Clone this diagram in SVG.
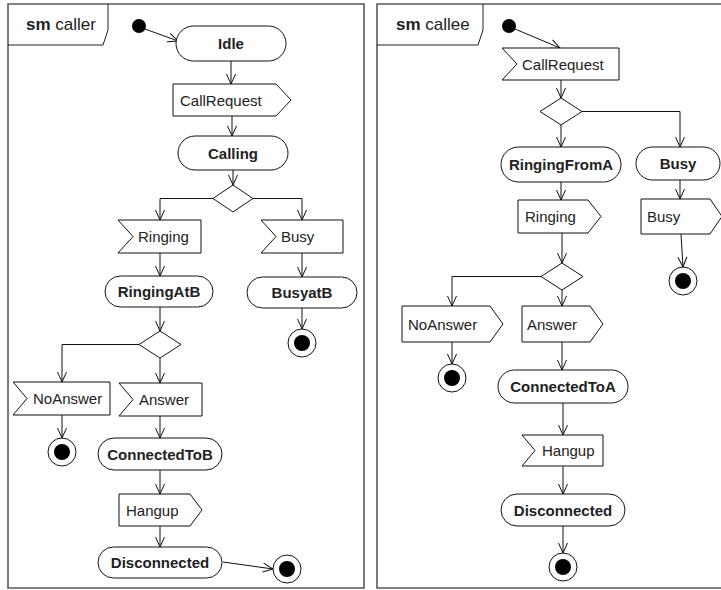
<svg xmlns="http://www.w3.org/2000/svg" width="721" height="590" viewBox="0 0 721 590">
  <style>
    .frame { fill: none; stroke: #5a5a5a; stroke-width: 1.6; }
    .tab { fill: none; stroke: #222; stroke-width: 1; }
    .shape { fill: #fff; stroke: #111; stroke-width: 1; }
    .edge { fill: none; stroke: #111; stroke-width: 1; marker-end: url(#arrow); }
    .init { fill: #000; }
    .final-ring { fill: #fff; stroke: #111; stroke-width: 1; }
    .final-dot { fill: #000; }
    .lbl { font-family: "Liberation Sans", Arial, sans-serif; font-size: 15px; fill: #222; }
    .state { font-family: "Liberation Sans", Arial, sans-serif; font-size: 15px; font-weight: bold; fill: #222; text-anchor: middle; }
    .title { font-family: "Liberation Sans", Arial, sans-serif; font-size: 17px; fill: #222; }
  </style>
  <defs>
    <marker id="arrow" markerUnits="userSpaceOnUse" markerWidth="12" markerHeight="12" refX="10" refY="4.5" orient="auto" overflow="visible">
      <path d="M0,0 L10,4.5 L0,9" fill="none" stroke="#111" stroke-width="1"/>
    </marker>
  </defs>

  <!-- ===== state machine: caller ===== -->
  <g id="frame-caller">
    <path class="frame" d="M8,4 H364 V588 H8 Z"/>
    <path class="tab" d="M8,45 H103 L108,30 V4"/>
    <text class="title" x="26" y="30"><tspan font-weight="bold">sm</tspan> caller</text>
  </g>

  <g id="caller-connectors">
    <line class="edge" x1="145" y1="29" x2="178" y2="41"/>
    <line class="edge" x1="231" y1="61" x2="231" y2="84"/>
    <line class="edge" x1="232" y1="116" x2="232" y2="136"/>
    <line class="edge" x1="233" y1="170" x2="233" y2="185"/>
    <path class="edge" d="M213,198.5 H160 V220"/>
    <path class="edge" d="M253,198.5 H302 V220"/>
    <line class="edge" x1="160" y1="253" x2="160" y2="276"/>
    <line class="edge" x1="302" y1="253" x2="302" y2="277"/>
    <line class="edge" x1="302" y1="308" x2="302" y2="329"/>
    <line class="edge" x1="160" y1="307" x2="160" y2="331"/>
    <path class="edge" d="M139,344.5 H62 V382"/>
    <line class="edge" x1="160" y1="358" x2="160" y2="383"/>
    <line class="edge" x1="62" y1="415" x2="62" y2="438"/>
    <line class="edge" x1="160" y1="416" x2="160" y2="438"/>
    <line class="edge" x1="160" y1="470" x2="160" y2="494"/>
    <line class="edge" x1="160" y1="526" x2="160" y2="547"/>
    <line class="edge" x1="223" y1="562" x2="273" y2="569"/>
  </g>

  <g id="caller-initial"><circle class="init" cx="139" cy="26" r="7"/></g>
  <g id="caller-idle">
    <rect class="shape" x="176" y="26" width="110" height="35" rx="17.5"/>
    <text class="state" x="231" y="49">Idle</text>
  </g>
  <g id="caller-callrequest">
    <polygon class="shape" points="173,84 276,84 291,100 276,116 173,116"/>
    <text class="lbl" x="180" y="105.5">CallRequest</text>
  </g>
  <g id="caller-calling">
    <rect class="shape" x="178" y="136" width="110" height="34" rx="17"/>
    <text class="state" x="233" y="158.5">Calling</text>
  </g>
  <g id="caller-choice1"><polygon class="shape" points="233,185 253,198.5 233,212 213,198.5"/></g>
  <g id="caller-ringing">
    <polygon class="shape" points="118,220 201,220 201,253 118,253 133,236.5"/>
    <text class="lbl" x="138" y="242">Ringing</text>
  </g>
  <g id="caller-busy">
    <polygon class="shape" points="261,220 343,220 343,253 261,253 276,236.5"/>
    <text class="lbl" x="281" y="242">Busy</text>
  </g>
  <g id="caller-ringingatb">
    <rect class="shape" x="105" y="276" width="108" height="31" rx="15.5"/>
    <text class="state" x="159" y="297">RingingAtB</text>
  </g>
  <g id="caller-busyatb">
    <rect class="shape" x="247" y="277" width="110" height="31" rx="15.5"/>
    <text class="state" x="302" y="298">BusyatB</text>
  </g>
  <g id="caller-final-busy">
    <circle class="final-ring" cx="302" cy="343" r="14"/>
    <circle class="final-dot" cx="302" cy="343" r="8"/>
  </g>
  <g id="caller-choice2"><polygon class="shape" points="160,331 181,344.5 160,358 139,344.5"/></g>
  <g id="caller-noanswer">
    <polygon class="shape" points="13,382 110,382 110,415 13,415 27,398.5"/>
    <text class="lbl" x="33" y="404">NoAnswer</text>
  </g>
  <g id="caller-answer">
    <polygon class="shape" points="119,383 202,383 202,416 119,416 133,399.5"/>
    <text class="lbl" x="139" y="405">Answer</text>
  </g>
  <g id="caller-final-noanswer">
    <circle class="final-ring" cx="62" cy="452" r="14"/>
    <circle class="final-dot" cx="62" cy="452" r="8"/>
  </g>
  <g id="caller-connectedtob">
    <rect class="shape" x="98" y="438" width="124" height="32" rx="16"/>
    <text class="state" x="160" y="459.5">ConnectedToB</text>
  </g>
  <g id="caller-hangup">
    <polygon class="shape" points="119,494 190,494 202,510 190,526 119,526"/>
    <text class="lbl" x="126" y="515.5">Hangup</text>
  </g>
  <g id="caller-disconnected">
    <rect class="shape" x="98" y="547" width="124" height="31" rx="15.5"/>
    <text class="state" x="160" y="568">Disconnected</text>
  </g>
  <g id="caller-final-end">
    <circle class="final-ring" cx="287" cy="569" r="14"/>
    <circle class="final-dot" cx="287" cy="569" r="8"/>
  </g>

  <!-- ===== state machine: callee ===== -->
  <g id="frame-callee">
    <path class="frame" d="M725,4 H377 V588 H725"/>
    <path class="tab" d="M377,45 H478 L483,30 V4"/>
    <text class="title" x="396" y="30"><tspan font-weight="bold">sm</tspan> callee</text>
  </g>

  <g id="callee-connectors">
    <line class="edge" x1="515" y1="29" x2="560" y2="48"/>
    <line class="edge" x1="561" y1="80" x2="561" y2="98"/>
    <path class="edge" d="M582,111.5 H680 V147"/>
    <line class="edge" x1="561" y1="125" x2="561" y2="147"/>
    <line class="edge" x1="561" y1="182" x2="561" y2="200"/>
    <line class="edge" x1="680" y1="180" x2="680" y2="199"/>
    <line class="edge" x1="681" y1="234" x2="683" y2="267"/>
    <line class="edge" x1="562" y1="233" x2="562" y2="263"/>
    <path class="edge" d="M541,276.5 H452 V306"/>
    <line class="edge" x1="562" y1="290" x2="562" y2="306"/>
    <line class="edge" x1="452" y1="342" x2="452" y2="364"/>
    <line class="edge" x1="562" y1="342" x2="562" y2="370"/>
    <line class="edge" x1="563" y1="403" x2="563" y2="435"/>
    <line class="edge" x1="563" y1="466" x2="563" y2="494"/>
    <line class="edge" x1="563" y1="526" x2="563" y2="553"/>
  </g>

  <g id="callee-initial"><circle class="init" cx="509" cy="26" r="7"/></g>
  <g id="callee-callrequest">
    <polygon class="shape" points="502,48 619,48 619,80 502,80 517,64"/>
    <text class="lbl" x="522" y="69.5">CallRequest</text>
  </g>
  <g id="callee-choice1"><polygon class="shape" points="561,98 582,111.5 561,125 540,111.5"/></g>
  <g id="callee-ringingfroma">
    <rect class="shape" x="501" y="147" width="120" height="35" rx="17.5"/>
    <text class="state" x="561" y="170">RingingFromA</text>
  </g>
  <g id="callee-busy-state">
    <rect class="shape" x="636" y="147" width="84" height="33" rx="16.5"/>
    <text class="state" x="678" y="169">Busy</text>
  </g>
  <g id="callee-ringing">
    <polygon class="shape" points="518,200 588,200 601,216.5 588,233 518,233"/>
    <text class="lbl" x="525" y="222">Ringing</text>
  </g>
  <g id="callee-busy-signal">
    <polygon class="shape" points="641,199 710,199 722,216.5 710,234 641,234"/>
    <text class="lbl" x="647" y="222">Busy</text>
  </g>
  <g id="callee-final-busy">
    <circle class="final-ring" cx="683" cy="281" r="14"/>
    <circle class="final-dot" cx="683" cy="281" r="8"/>
  </g>
  <g id="callee-choice2"><polygon class="shape" points="562,263 583,276.5 562,290 541,276.5"/></g>
  <g id="callee-noanswer">
    <polygon class="shape" points="402,306 490,306 503,324 490,342 402,342"/>
    <text class="lbl" x="408" y="329.5">NoAnswer</text>
  </g>
  <g id="callee-answer">
    <polygon class="shape" points="522,306 590,306 603,324 590,342 522,342"/>
    <text class="lbl" x="527" y="329.5">Answer</text>
  </g>
  <g id="callee-final-noanswer">
    <circle class="final-ring" cx="452" cy="378" r="14"/>
    <circle class="final-dot" cx="452" cy="378" r="8"/>
  </g>
  <g id="callee-connectedtoa">
    <rect class="shape" x="498" y="370" width="130" height="33" rx="16.5"/>
    <text class="state" x="563" y="392">ConnectedToA</text>
  </g>
  <g id="callee-hangup">
    <polygon class="shape" points="522,435 603,435 603,466 522,466 535,450.5"/>
    <text class="lbl" x="542" y="456">Hangup</text>
  </g>
  <g id="callee-disconnected">
    <rect class="shape" x="501" y="494" width="124" height="32" rx="16"/>
    <text class="state" x="563" y="515.5">Disconnected</text>
  </g>
  <g id="callee-final-end">
    <circle class="final-ring" cx="563" cy="567" r="14"/>
    <circle class="final-dot" cx="563" cy="567" r="8"/>
  </g>
</svg>
